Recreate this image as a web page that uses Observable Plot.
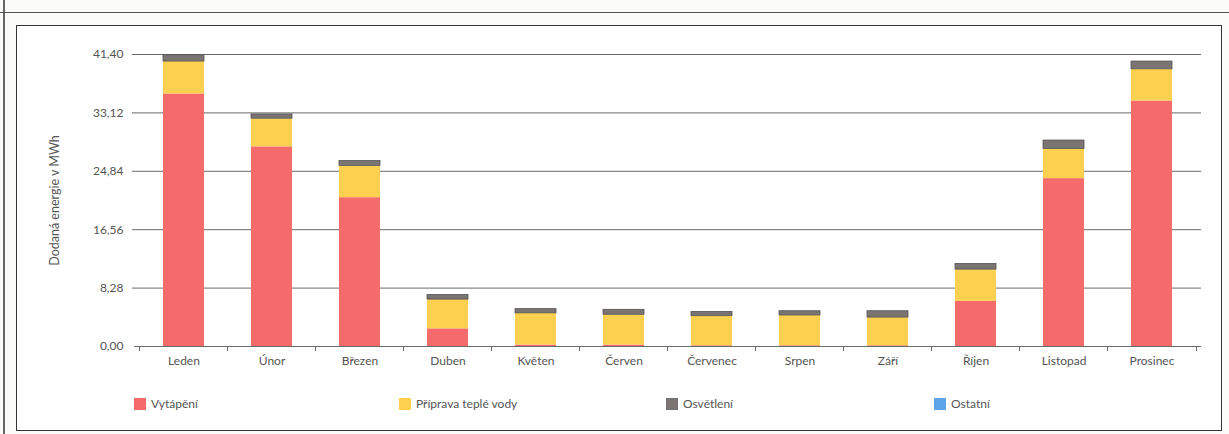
<!DOCTYPE html>
<html>
<head>
<meta charset="utf-8">
<script src="https://cdn.jsdelivr.net/npm/d3@7"></script>
<script src="https://cdn.jsdelivr.net/npm/@observablehq/plot@0.6"></script>
<style>
  html, body { margin: 0; padding: 0; background: #fbfbfa; }
  #wrap { position: relative; width: 1229px; height: 434px; overflow: hidden; font-family: Lato, "Open Sans", sans-serif; }
  .hline { position: absolute; left: 0; width: 1229px; height: 1px; background: #555; }
  #edge { position: absolute; left: 3px; top: 0; width: 2px; height: 434px; background: #666; }
  #box { position: absolute; left: 16px; top: 25px; width: 1204px; height: 404px; border: 1.5px solid #333; background: #fff; }
  #chart { position: absolute; left: 0; top: 0; }
  .legend { position: absolute; top: 396px; display: flex; align-items: center; font-size: 12px; color: #555; }
  .sw { width: 12px; height: 12px; margin-right: 5px; }
</style>
</head>
<body>
<div id="wrap">
  <div id="edge"></div>
  <div class="hline" style="top:12px"></div>
  <div id="box"></div>
  <div id="chart"></div>
  <div id="legend"></div>
</div>
<script>
const months = ["Leden","Únor","Březen","Duben","Květen","Červen","Červenec","Srpen","Září","Říjen","Listopad","Prosinec"];
const series = ["Vytápění","Příprava teplé vody","Osvětlení","Ostatní"];
const colors = ["#f56b6b","#fdd050","#7a7472","#5ba4ea"];
const vytapeni = [35.8, 28.3, 21.1, 2.5, 0.2, 0.2, 0.1, 0.1, 0.1, 6.4, 23.8, 34.8];
const pripravaTV = [4.6, 4.0, 4.5, 4.15, 4.5, 4.3, 4.2, 4.3, 4.0, 4.5, 4.2, 4.5];
const osvetleni = [0.9, 0.6, 0.7, 0.65, 0.6, 0.7, 0.6, 0.6, 0.9, 0.8, 1.2, 1.1];
const ostatni = [0, 0, 0, 0, 0, 0, 0, 0, 0, 0, 0, 0];
const yTicks = [0, 8.28, 16.56, 24.84, 33.12, 41.40];
const yTitle = "Dodaná energie v MWh";

const valuesBySeries = [vytapeni, pripravaTV, osvetleni, ostatni];
const data = [];
months.forEach((m, i) => {
  series.forEach((s, j) => data.push({month: m, series: s, value: valuesBySeries[j][i]}));
});

const fmt = d => d.toFixed(2).replace(".", ",");
const W = 1229, H = 380, ML = 134, MR = 28, MT = 54, MB = 34;
const step = (W - ML - MR) / months.length;

const plot = Plot.plot({
  width: W, height: H,
  marginLeft: ML, marginRight: MR, marginTop: MT, marginBottom: MB,
  style: {background: "transparent", fontFamily: "Lato, 'Open Sans', sans-serif", fontSize: "12px", color: "#555"},
  x: {domain: months, paddingInner: 0.53, paddingOuter: 0.265},
  y: {domain: [0, 41.4]},
  color: {domain: series, range: colors},
  marks: [
    Plot.ruleY(yTicks.slice(1), {stroke: "#6a6a6a", strokeWidth: 1, strokeOpacity: 1, insetLeft: -2}),
    Plot.barY(data, Plot.stackY({order: series, x: "month", y: "value", fill: "series",
      stroke: d => d.series === "Osvětlení" ? "#555" : "none", strokeWidth: 0.8})),
    Plot.ruleY([0], {stroke: "#6a6a6a", strokeWidth: 1.2}),
    Plot.axisY({ticks: yTicks, tickFormat: fmt, tickSize: 0, tickPadding: 11, label: null, fill: "#555", fontSize: 12}),
    Plot.text([yTitle], {frameAnchor: "left", textAnchor: "middle", dx: -80, rotate: -90, fontSize: 12.5, fill: "#555"}),
    Plot.axisX({tickSize: 0, tickPadding: 10, label: null, fill: "#555", fontSize: 12}),
    Plot.axisX({tickSize: 5, text: null, label: null, dx: -step / 2, stroke: "#666"}),
    Plot.axisX({ticks: [months[months.length - 1]], tickSize: 5, text: null, label: null, dx: step / 2, stroke: "#666"})
  ]
});
document.getElementById("chart").appendChild(plot);

const legendX = [134, 399, 666, 934];
const lg = document.getElementById("legend");
series.forEach((s, j) => {
  const item = document.createElement("div");
  item.className = "legend";
  item.style.left = legendX[j] + "px";
  item.innerHTML = `<div class="sw" style="background:${colors[j]}"></div><span>${s}</span>`;
  lg.appendChild(item);
});
</script>
</body>
</html>
